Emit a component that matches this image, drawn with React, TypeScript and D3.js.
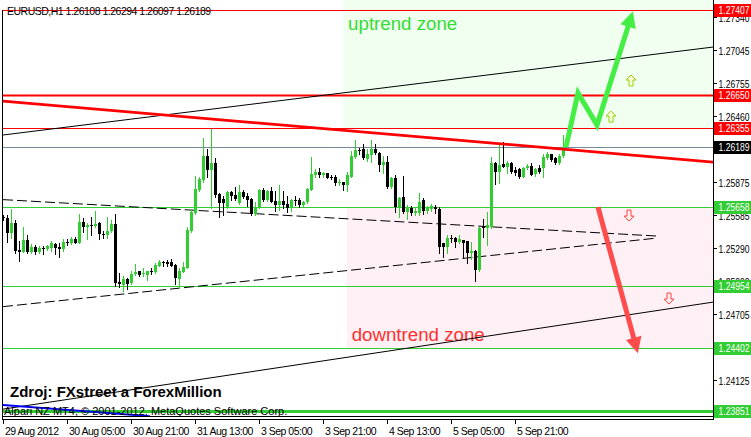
import React from 'react';
import * as d3 from 'd3';

const W = 751;
const H = 437;

// ---------- data ----------
const timeLabels = ["29 Aug 2012", "30 Aug 05:00", "30 Aug 21:00", "31 Aug 13:00", "3 Sep 05:00", "3 Sep 21:00", "4 Sep 13:00", "5 Sep 05:00", "5 Sep 21:00"];
const timeLabelIndex = [0, 16, 32, 48, 64, 80, 96, 112, 128];

const priceTicks = [1.2734, 1.27045, 1.26755, 1.2646, 1.25875, 1.25585, 1.2529, 1.25, 1.24705, 1.24125];
const priceTickLabels = ["1.27340", "1.27045", "1.26755", "1.26460", "1.25875", "1.25585", "1.25290", "1.25000", "1.24705", "1.24125"];

const opens = [1.25571, 1.2556, 1.25427, 1.2551, 1.25274, 1.25259, 1.25362, 1.25259, 1.25303, 1.25259, 1.25295, 1.25286, 1.25289, 1.25327, 1.25303, 1.2528, 1.25344, 1.25339, 1.25374, 1.25339,
  1.25522, 1.2548, 1.25493, 1.25486, 1.25516, 1.25418, 1.25407, 1.25445, 1.25502, 1.24988, 1.24964, 1.25014, 1.24979, 1.25058, 1.25085, 1.25061, 1.25052, 1.2509, 1.25081, 1.25134,
  1.25164, 1.25164, 1.25164, 1.2514, 1.25016, 1.25081, 1.25117, 1.25445, 1.25604, 1.25806, 1.25894, 1.26107, 1.25983, 1.26048, 1.2577, 1.25723, 1.25652, 1.25791, 1.25761, 1.2569,
  1.25788, 1.25752, 1.25726, 1.2559, 1.25643, 1.25806, 1.25717, 1.25797, 1.25708, 1.25673, 1.25708, 1.25679, 1.25649, 1.25717, 1.25717, 1.25673, 1.25699, 1.25806, 1.25939, 1.25968,
  1.25939, 1.25954, 1.25924, 1.25924, 1.25865, 1.25879, 1.2585, 1.25924, 1.26101, 1.26161, 1.26167, 1.26078, 1.26116, 1.26167, 1.26136, 1.26027, 1.26057, 1.25835, 1.25909, 1.25643,
  1.25741, 1.25614, 1.25643, 1.25599, 1.25599, 1.25717, 1.25622, 1.25635, 1.25658, 1.25635, 1.25333, 1.25303, 1.25377, 1.25383, 1.25344, 1.25362, 1.25353, 1.25249, 1.25264, 1.25096,
  1.2548, 1.25466, 1.2548, 1.26043, 1.25968, 1.26037, 1.26013, 1.26043, 1.25983, 1.25989, 1.25924, 1.25998, 1.26019, 1.25945, 1.25998, 1.25998, 1.26092, 1.26123, 1.26092, 1.26043,
  1.26108];
const highs = [1.25584, 1.25584, 1.25635, 1.2554, 1.25356, 1.2548, 1.25407, 1.25327, 1.25318, 1.2531, 1.2531, 1.25318, 1.25356, 1.25339, 1.25339, 1.25368, 1.25368, 1.25391, 1.25391, 1.25593,
  1.2556, 1.25516, 1.25564, 1.25622, 1.25525, 1.25445, 1.25569, 1.2554, 1.2559, 1.2507, 1.2504, 1.25023, 1.25091, 1.25149, 1.25091, 1.25111, 1.2509, 1.25117, 1.25158, 1.25185,
  1.25179, 1.25185, 1.25191, 1.25149, 1.25111, 1.2517, 1.25475, 1.25635, 1.2593, 1.25924, 1.26264, 1.26169, 1.26344, 1.26087, 1.25782, 1.25752, 1.25799, 1.25799, 1.25835, 1.2585,
  1.25806, 1.25779, 1.25732, 1.25699, 1.25815, 1.25823, 1.25806, 1.25832, 1.25797, 1.2585, 1.25797, 1.25755, 1.25726, 1.25755, 1.25735, 1.25708, 1.25826, 1.26098, 1.25989, 1.25998,
  1.25968, 1.25959, 1.25939, 1.25939, 1.25903, 1.25879, 1.25968, 1.26152, 1.26249, 1.26179, 1.26214, 1.26169, 1.26249, 1.26214, 1.26145, 1.26107, 1.26107, 1.25918, 1.25939, 1.25746,
  1.2593, 1.25673, 1.25664, 1.25643, 1.25776, 1.25732, 1.25664, 1.25682, 1.25673, 1.25658, 1.25336, 1.25407, 1.25407, 1.25391, 1.25407, 1.25362, 1.25357, 1.25347, 1.25274, 1.2548,
  1.25546, 1.25613, 1.26101, 1.26057, 1.26214, 1.26234, 1.26063, 1.26051, 1.26013, 1.25998, 1.26013, 1.26037, 1.26043, 1.26004, 1.26027, 1.26122, 1.26145, 1.26126, 1.26101, 1.26122,
  1.26294];
const lows = [1.2554, 1.25347, 1.25377, 1.25249, 1.25179, 1.25256, 1.25244, 1.25244, 1.25235, 1.25244, 1.25235, 1.25274, 1.25267, 1.25235, 1.25214, 1.25267, 1.25318, 1.25327, 1.25333, 1.25333,
  1.25436, 1.25368, 1.25407, 1.2548, 1.25368, 1.25377, 1.25377, 1.25436, 1.24958, 1.24944, 1.24914, 1.24928, 1.24973, 1.25052, 1.25046, 1.25046, 1.25007, 1.25061, 1.25073, 1.25128,
  1.25134, 1.25134, 1.25128, 1.24973, 1.24935, 1.25076, 1.25111, 1.25436, 1.25593, 1.25799, 1.25879, 1.25918, 1.25643, 1.25746, 1.25569, 1.25584, 1.25643, 1.25717, 1.25717, 1.25684,
  1.25735, 1.25666, 1.25584, 1.25584, 1.25643, 1.25711, 1.25711, 1.25697, 1.25619, 1.25628, 1.25646, 1.25611, 1.25619, 1.25673, 1.25658, 1.25658, 1.25688, 1.25806, 1.25924, 1.25924,
  1.25924, 1.25909, 1.25903, 1.2585, 1.2585, 1.25806, 1.25799, 1.25921, 1.2609, 1.26128, 1.26081, 1.26063, 1.26057, 1.26123, 1.25974, 1.25954, 1.25821, 1.25821, 1.25614, 1.25569,
  1.25604, 1.25546, 1.25584, 1.25584, 1.25584, 1.25593, 1.25602, 1.25622, 1.25599, 1.25249, 1.25214, 1.25244, 1.25347, 1.25303, 1.25339, 1.25214, 1.25155, 1.25198, 1.25002, 1.25087,
  1.25391, 1.25318, 1.25471, 1.25859, 1.25865, 1.26007, 1.25959, 1.25954, 1.25939, 1.25915, 1.25918, 1.25989, 1.25939, 1.25933, 1.25959, 1.25924, 1.26081, 1.26063, 1.26034, 1.26034,
  1.26097];
const closes = [1.2556, 1.25427, 1.25516, 1.25267, 1.25259, 1.25362, 1.25259, 1.25303, 1.25259, 1.25295, 1.2528, 1.2531, 1.25333, 1.25289, 1.2528, 1.25344, 1.25342, 1.25374, 1.25339, 1.25525,
  1.2548, 1.25493, 1.25491, 1.25502, 1.25413, 1.25407, 1.25442, 1.25502, 1.24979, 1.2497, 1.25016, 1.24973, 1.25061, 1.25081, 1.25052, 1.2507, 1.2509, 1.25088, 1.25143, 1.25164,
  1.25162, 1.25146, 1.25134, 1.25023, 1.25088, 1.25125, 1.25451, 1.25611, 1.25812, 1.25901, 1.26107, 1.25983, 1.26048, 1.25761, 1.25688, 1.25693, 1.25791, 1.25752, 1.25723, 1.25788,
  1.25746, 1.25717, 1.2559, 1.25649, 1.25806, 1.25717, 1.25797, 1.25702, 1.25673, 1.25708, 1.25673, 1.25649, 1.25717, 1.25715, 1.25673, 1.25699, 1.25815, 1.25948, 1.25968, 1.25939,
  1.25959, 1.25915, 1.25921, 1.25865, 1.25879, 1.2585, 1.25939, 1.26107, 1.26161, 1.26158, 1.26087, 1.26125, 1.26167, 1.26136, 1.26027, 1.26057, 1.25835, 1.25909, 1.25658, 1.25732,
  1.25614, 1.25643, 1.25599, 1.25622, 1.25702, 1.25622, 1.25643, 1.25664, 1.25635, 1.25303, 1.25303, 1.25377, 1.25375, 1.25347, 1.25368, 1.25339, 1.25249, 1.25267, 1.25096, 1.25471,
  1.25477, 1.25495, 1.26043, 1.25968, 1.26027, 1.26013, 1.26043, 1.25968, 1.25954, 1.25924, 1.25998, 1.26019, 1.25939, 1.25995, 1.25968, 1.26101, 1.26128, 1.26072, 1.26043, 1.2611,
  1.26189];

// horizontal levels
const levelPrices = [1.27407, 1.2665, 1.26355, 1.26189, 1.25658, 1.24954, 1.24402, 1.23851];
const levelKinds = ["res", "res", "res", "bid", "sup", "sup", "sup", "sup"];

// trend lines: [barIndex0, price0, barIndex1, price1]
const redTrend = [-0.125, 1.26595, 177.375, 1.26054];
const channelUpper = [-0.125, 1.26294, 177.375, 1.27074];
const channelLower = [-0.125, 1.23863, 177.375, 1.24812];
const triangleUpper = [-0.125, 1.25721, 163.375, 1.25398];
const triangleLower = [-0.125, 1.24772, 163.375, 1.2538];
const blueLine = [-0.125, 1.23899, 36.6, 1.23801];

// zones: [barStart, priceTop, priceBottom]
const upZone = [84.9, 1.275, 1.26355];
const downZone = [85.8, 1.25658, 1.24402];

// scenario arrows (bar index, price)
const upPathIdx = [140.625, 143.625, 148.375, 156.9];
const upPathPrice = [1.26187, 1.26666, 1.26382, 1.2734];
const downPathIdx = [148.625, 158.2];
const downPathPrice = [1.25655, 1.2441];

const smallUpIdx = [156.875, 151.875];
const smallUpPrice = [1.26773, 1.26453];
const smallDownIdx = [156.375, 166.375];
const smallDownPrice = [1.25584, 1.24848];

const GREEN = '#32cd32';
const RED = '#ff0000';
const FONT = '"Liberation Sans", Arial, sans-serif';

export default function App() {
  const x = d3.scaleLinear().domain([0, 177.375]).range([3.5, 713]);
  const y = d3.scaleLinear().domain([1.23851, 1.27407]).range([410.5, 9.5]);
  const ln = d3.line<[number, number]>().x(d => x(d[0])).y(d => y(d[1]));

  const seg = (t: number[]) => ln([[t[0], t[1]], [t[2], t[3]]]) as string;
  const levelColor = (k: string) => (k === 'res' ? RED : k === 'sup' ? GREEN : '#000000');

  const upPts: [number, number][] = upPathIdx.map((v, i) => [v, upPathPrice[i]]);
  const dnPts: [number, number][] = downPathIdx.map((v, i) => [v, downPathPrice[i]]);

  const arrowHead = (pts: [number, number][], color: string) => {
    const a = pts[pts.length - 2];
    const b = pts[pts.length - 1];
    const x1 = x(a[0]), y1 = y(a[1]), x2 = x(b[0]), y2 = y(b[1]);
    const ang = Math.atan2(y2 - y1, x2 - x1);
    const L = 16, Wd = 8;
    const tipX = x2 + Math.cos(ang) * 6, tipY = y2 + Math.sin(ang) * 6;
    const bx = tipX - Math.cos(ang) * L, by = tipY - Math.sin(ang) * L;
    const px = -Math.sin(ang) * Wd, py = Math.cos(ang) * Wd;
    return <path d={`M${tipX},${tipY}L${bx + px},${by + py}L${bx - px},${by - py}Z`} fill={color} />;
  };

  const upArrow = (cx: number, cy: number, key: string) => (
    <path key={key} d={`M${cx},${cy - 6}L${cx + 5},${cy - 1}L${cx + 2},${cy - 1}L${cx + 2},${cy + 5}L${cx - 2},${cy + 5}L${cx - 2},${cy - 1}L${cx - 5},${cy - 1}Z`}
      fill="#ffffe0" stroke="#8fd400" strokeWidth={1} />
  );
  const downArrow = (cx: number, cy: number, key: string) => (
    <path key={key} d={`M${cx},${cy + 6}L${cx + 5},${cy + 1}L${cx + 2},${cy + 1}L${cx + 2},${cy - 5}L${cx - 2},${cy - 5}L${cx - 2},${cy + 1}L${cx - 5},${cy + 1}Z`}
      fill="#fff0f0" stroke="#ff4040" strokeWidth={1} />
  );

  return (
    <svg width={W} height={H} style={{ position: 'absolute', left: 0, top: 0 }} xmlns="http://www.w3.org/2000/svg">
      <defs>
        <clipPath id="plot"><rect x={3} y={0} width={710} height={416} /></clipPath>
      </defs>
      <rect x={0} y={0} width={W} height={H} fill="#ffffff" />
      <g clipPath="url(#plot)">
        {/* zones */}
        <rect x={x(upZone[0])} y={y(upZone[1])} width={713 - x(upZone[0])} height={y(upZone[2]) - y(upZone[1])} fill="#f0fff0" />
        <rect x={x(downZone[0])} y={y(downZone[1])} width={713 - x(downZone[0])} height={y(downZone[2]) - y(downZone[1])} fill="#fff0f5" />
        <text x={x(upZone[0]) + 5} y={30} fontFamily={FONT} fontSize={18.7} fill="#33dd33">uptrend zone</text>
        <text x={x(downZone[0]) + 5} y={341} fontFamily={FONT} fontSize={18.7} fill="#ff3030">downtrend zone</text>

        {/* horizontal levels */}
        {levelPrices.map((p, i) => {
          const yy = Math.round(y(p)) + 0.5;
          const k = levelKinds[i];
          const sw = i === 1 ? 2 : i === 7 ? 3 : 1;
          return <line key={'lv' + i} x1={3} x2={713} y1={yy} y2={yy} stroke={k === 'bid' ? '#778899' : levelColor(k)} strokeWidth={sw} />;
        })}

        {/* trend lines */}
        <path d={seg(channelUpper)} stroke="#000" strokeWidth={1} fill="none" />
        <path d={seg(channelLower)} stroke="#000" strokeWidth={1} fill="none" />
        <path d={seg(triangleUpper)} stroke="#000" strokeWidth={1} strokeDasharray="10,4" fill="none" />
        <path d={seg(triangleLower)} stroke="#000" strokeWidth={1} strokeDasharray="10,4" fill="none" />
        <path d={seg(blueLine)} stroke="#0000ff" strokeWidth={2} fill="none" />

        {/* candles */}
        {opens.map((o, i) => {
          const c = closes[i];
          const up = c > o;
          const col = up ? GREEN : '#000000';
          const cx = Math.round(x(i) - 0.5) + 0.5;
          const yt = Math.round(y(Math.max(o, c)));
          const yb = Math.round(y(Math.min(o, c)));
          return (
            <g key={'c' + i}>
              <line x1={cx} x2={cx} y1={Math.round(y(highs[i]))} y2={Math.round(y(lows[i])) + 1} stroke={col} strokeWidth={1} />
              <rect x={cx - 1.5} y={yt} width={3} height={Math.max(1, yb - yt)} fill={col} />
            </g>
          );
        })}

        <path d={seg(redTrend)} stroke={RED} strokeWidth={2.8} fill="none" />

        {/* scenario arrows */}
        <path d={ln(upPts) as string} stroke="#44ee44" strokeWidth={5} fill="none" strokeLinejoin="miter" />
        {arrowHead(upPts, '#44ee44')}
        <path d={ln(dnPts) as string} stroke="#ff4c4c" strokeWidth={5} fill="none" />
        {arrowHead(dnPts, '#ff4c4c')}
        {smallUpIdx.map((v, i) => upArrow(x(v), y(smallUpPrice[i]), 'su' + i))}
        {smallDownIdx.map((v, i) => downArrow(x(v), y(smallDownPrice[i]), 'sd' + i))}

        {/* texts */}
        <text x={7} y={15} fontFamily={FONT} fontSize={10.5} letterSpacing={-0.5} fill="#000">EURUSD,H1  1.26108 1.26294 1.26097 1.26189</text>
        <text x={10} y={397} fontFamily={FONT} fontSize={15} fontWeight="bold" fill="#000">Zdroj: FXstreet a ForexMillion</text>
        <text x={4} y={415} fontFamily={FONT} fontSize={11} fill="#000">Alpari NZ MT4, © 2001-2012, MetaQuotes Software Corp.</text>
      </g>

      {/* frame */}
      <line x1={2.5} x2={2.5} y1={10} y2={420} stroke="#000" />
      <line x1={713.5} x2={713.5} y1={0} y2={420} stroke="#000" />
      <line x1={2} x2={714} y1={416.5} y2={416.5} stroke="#000" />
      <line x1={2} x2={714} y1={419.5} y2={419.5} stroke="#000" />

      {/* time axis */}
      {timeLabelIndex.map((ix, i) => {
        const tx = Math.round(x(ix) - 0.5);
        return (
          <g key={'t' + i}>
            <line x1={tx + 0.5} x2={tx + 0.5} y1={420} y2={424} stroke="#000" />
            <text x={tx + 2} y={435} fontFamily={FONT} fontSize={10.5} letterSpacing={-0.5} fill="#000">{timeLabels[i]}</text>
          </g>
        );
      })}

      {/* price axis */}
      {priceTicks.map((p, i) => {
        const ty = Math.round(y(p)) + 0.5;
        return (
          <g key={'p' + i}>
            <line x1={713} x2={717} y1={ty} y2={ty} stroke="#000" />
            <text x={718.5} y={ty + 4} fontFamily={FONT} fontSize={10.5} textLength={31} lengthAdjust="spacingAndGlyphs" fill="#000">{priceTickLabels[i]}</text>
          </g>
        );
      })}
      {levelPrices.map((p, i) => {
        const ty = Math.round(y(p));
        const k = levelKinds[i];
        return (
          <g key={'pl' + i}>
            <rect x={714} y={ty - 6} width={37} height={13} fill={levelColor(k)} />
            <text x={718.5} y={ty + 4} fontFamily={FONT} fontSize={10.5} textLength={31} lengthAdjust="spacingAndGlyphs" fill="#fff">{p.toFixed(5)}</text>
          </g>
        );
      })}
    </svg>
  );
}
